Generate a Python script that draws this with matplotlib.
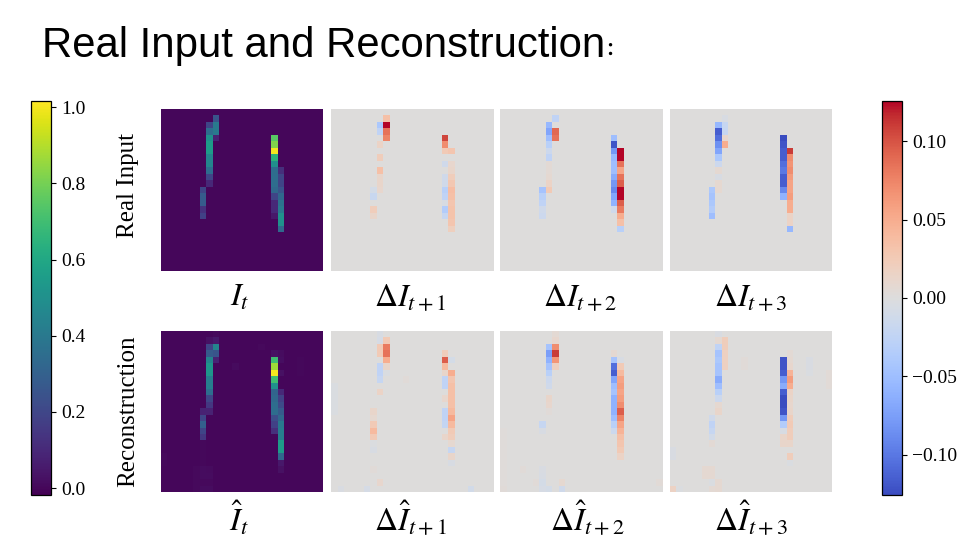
import numpy as np
import matplotlib
matplotlib.use("Agg")
import matplotlib.pyplot as plt
from matplotlib.cm import ScalarMappable
from matplotlib.colors import Normalize
from matplotlib.ticker import FuncFormatter

plt.rcParams["font.family"] = ["Liberation Serif"]
plt.rcParams["mathtext.fontset"] = "stix"

GRID = 25
# each panel: column -> (first row, values going downward)
REAL_FRAME = {
    6: (12, [.2, .28, .28, .13, .18]),
    7: (2, [.2, .35, .5, .55, .55, .45, .45, .35, .2, .1]),
    8: (1, [.25, .4, .4, .08]),
    17: (4, [.75, .82, 1.0, .65, .5, .35, .35, .35, .33, .2, .1, .1, .05]),
    18: (9, [.12, .2, .2, .25, .33, .37, .4, .5, .5, .33]),
}
REAL_D1 = {
    6: (12, [-.008, -.018, 0, .022, .012]),
    7: (2, [-.04, -.025, 0, .015, 0, .022, 0, .035, .012, .012, .01]),
    8: (1, [.035, .125, .085, .075]),
    17: (4, [.105, .07, .025, 0, -.012, 0, -.012, -.012, -.03, -.025, -.005, -.035, -.02]),
    18: (6, [.03, 0, .01, .012, .022, .028, .037, .035, .03, .032, .032, .03, .02]),
}
REAL_D2 = {
    6: (12, [-.045, -.03, -.025, -.012, -.015]),
    7: (2, [-.055, -.07, -.05, -.03, -.015, -.025, .005, .005, .007, .015, .025]),
    8: (1, [-.025, 0, .09, .085]),
    17: (4, [-.05, -.12, -.08, -.055, -.05, -.05, -.065, -.08, -.09, -.07, -.06, -.012]),
    18: (6, [.125, .125, .085, .055, .085, .095, .125, .125, .095, .08, .05, .035, -.03]),
}
REAL_D3 = {
    6: (12, [-.04, -.045, -.04, -.035, -.05]),
    7: (2, [-.055, -.115, -.105, -.085, -.07, -.04, -.015, .007, -.005, .008, .008]),
    8: (1, [-.005, -.02, -.02, .01, .05]),
    17: (4, [-.125, -.12, -.115, -.115, -.105, -.1, -.115, -.115, -.09, -.06]),
    18: (6, [.11, .07, .065, .07, .06, .055, .055, .06, .05, .05, .015, .015, -.055]),
}
RECON_FRAME = {
    0: (19, [.008, .006]),
    5: (21, [.01, .01, .008, .01]),
    6: (12, [.08, .2, .3, .2, .15, .006, .006, .006, .006, .015, .015, .01, .015]),
    7: (1, [.03, .2, .28, .45, .52, .52, .42, .42, .35, .2, .15, .08, 0, 0, 0, 0, 0, 0, 0, 0, .012, .015, .01, .018]),
    8: (0, [.01, .05, .45, .25, .08]),
    11: (5, [.012]),
    15: (2, [.008]),
    17: (3, [.03, .7, .87, 1.0, .7, .5, .32, .33, .35, .35, .23, .18, .12]),
    18: (3, [.015, .02, 0, .03, 0, 0, .1, .18, .22, .28, .33, .4, .42, .42, .55, .55, .33, .05, .03]),
    21: (4, [.006, .006, .006]),
}
RECON_D1 = {
    0: (8, [-.003, -.003, -.003, -.003, -.003]),
    1: (24, [-.004]),
    5: (24, [-.007]),
    6: (12, [.012, .008, .025, .04, .025, -.002, -.005, 0, 0, .003, 0, 0, 0]),
    7: (0, [-.005, -.007, .025, .025, 0, -.025, -.025, -.02, 0, .015, 0, 0, 0, 0, 0, 0, 0, 0, 0, 0, 0, 0, 0, .01]),
    8: (1, [.025, .08, .085, .05, .012, -.003]),
    11: (7, [.003]),
    17: (3, [.022, .095, .04, .012, -.025, -.025, 0, .01, 0, -.025, -.025, -.022, 0, .012]),
    18: (4, [-.008, 0, .05, .03, .035, .035, .035, .035, .04, .055, .04, .025, .022, .008, -.02, .012, -.005]),
    21: (24, [-.01]),
}
RECON_D2 = {
    0: (15, [.002, .002, .002, .002, .002, .002, .002, .002, .002, .003]),
    3: (21, [.003]),
    5: (23, [.003]),
    6: (14, [-.02, -.005, 0, 0, 0, 0, 0, -.004, -.005, -.008, -.006]),
    7: (2, [-.045, -.075, -.06, -.045, -.03, -.015, -.012, 0, .012, .01, .003, 0, 0, 0, 0, 0, 0, 0, 0, 0, 0, 0, -.008]),
    8: (0, [.006, .01, .07, .11, .065, .02]),
    9: (23, [.008, -.012]),
    17: (3, [.007, -.045, -.105, -.115, -.07, -.05, -.045, -.06, -.06, -.06, -.05, -.03, -.015]),
    18: (4, [-.005, .025, .04, .055, .06, .055, .06, .07, .095, .075, .055, .045, .035, .03, .025, .015]),
    24: (23, [.004]),
}
RECON_D3 = {
    0: (18, [-.004, -.004, 0, 0, 0, 0, .016]),
    1: (24, [-.002]),
    5: (21, [.007, .007]),
    6: (13, [-.012, -.025, -.02, -.01, .005, 0, 0, 0, .007, .007, -.003, .006]),
    7: (0, [-.004, .007, -.025, -.045, -.04, -.045, -.045, -.065, -.05, -.03, -.015, .008, .012, 0, 0, 0, 0, 0, 0, 0, 0, 0, 0, .007, .007]),
    8: (1, [.022, .022, .018, .018, .018]),
    11: (4, [.003, .003]),
    17: (4, [-.12, -.12, -.115, -.08, -.065, -.115, -.125, -.125, -.12, -.08, -.035, -.005, .012, .012]),
    18: (3, [.005, .007, .01, .045, .06, .05, .015, .012, .01, .012, .022, .025, .022, .022, .012, 0, .022, -.003]),
    21: (4, [-.004, -.004, -.003]),
    24: (6, [.004, .004, .004]),
}
FRAME_TICKS = [0.0, 0.2, 0.4, 0.6, 0.8, 1.0]
DELTA_TICKS = [-0.10, -0.05, 0.00, 0.05, 0.10]
ROW_LABELS = ["Real Input", "Reconstruction"]
REAL_TITLES = [r"$I_t$", r"$\Delta I_{t+1}$", r"$\Delta I_{t+2}$", r"$\Delta I_{t+3}$"]
RECON_TITLES = [r"$\hat{I}_t$", r"$\Delta\hat{I}_{t+1}$", r"$\Delta\hat{I}_{t+2}$", r"$\Delta\hat{I}_{t+3}$"]

W, H = 976, 552
fig = plt.figure(figsize=(W / 100, H / 100), dpi=100, facecolor="white")


def box(x0, y0, x1, y1):
    return [x0 / W, 1 - y1 / H, (x1 - x0) / W, (y1 - y0) / H]


def grid(panel):
    g = np.zeros((GRID, GRID))
    for col, (start, vals) in panel.items():
        for i, v in enumerate(vals):
            g[start + i, col] = v
    return g


frame_norm = Normalize(-0.018, 1.016)
delta_norm = Normalize(-0.1255, 0.1255)
XS = [(161, 323), (331, 493), (500, 662), (670, 832)]
ROWS = [(109, 271), (331, 492)]
PANELS = [[REAL_FRAME, REAL_D1, REAL_D2, REAL_D3],
          [RECON_FRAME, RECON_D1, RECON_D2, RECON_D3]]
for (y0, y1), row in zip(ROWS, PANELS):
    for j, ((x0, x1), panel) in enumerate(zip(XS, row)):
        ax = fig.add_axes(box(x0, y0, x1, y1))
        cmap, norm = ("viridis", frame_norm) if j == 0 else ("coolwarm", delta_norm)
        ax.imshow(grid(panel), cmap=cmap, norm=norm, interpolation="nearest", aspect="auto")
        ax.axis("off")

for (x0, x1, cmap, norm, ticks, fmt) in [
    (31, 51, "viridis", frame_norm, FRAME_TICKS, "%.1f"),
    (882, 902, "coolwarm", delta_norm, DELTA_TICKS, "%.2f"),
]:
    cax = fig.add_axes(box(x0, 101, x1, 495))
    cb = fig.colorbar(ScalarMappable(norm=norm, cmap=cmap), cax=cax, ticks=ticks)
    cb.ax.yaxis.set_major_formatter(FuncFormatter(
        lambda v, p, f=fmt: (f % v).replace("-", "\u2212")))
    cb.ax.tick_params(labelsize=14, length=3.5, width=0.8, pad=4)
    cb.outline.set_linewidth(0.9)

fig.text(42 / W, 1 - 57 / H, "Real Input and Reconstruction", fontsize=30.2, va="baseline", ha="left",
         family="Liberation Sans")
fig.text(614 / W, 1 - 49 / H, "\uff1a", fontsize=13, va="center", ha="center",
         family="Noto Sans CJK SC", fontweight="bold")
for label, yc in zip(ROW_LABELS, [186, 411]):
    fig.text(128 / W, 1 - yc / H, label, rotation=90, fontsize=18, va="center", ha="center")
for title, xc in zip(REAL_TITLES, [240, 410, 580, 751]):
    fig.text(xc / W, 1 - 298 / H, title, fontsize=23, va="center", ha="center")
for title, xc in zip(RECON_TITLES, [239, 411, 587, 751]):
    fig.text(xc / W, 1 - 518 / H, title, fontsize=23, va="center", ha="center")

fig.savefig("out.png", dpi=100, facecolor="white")
